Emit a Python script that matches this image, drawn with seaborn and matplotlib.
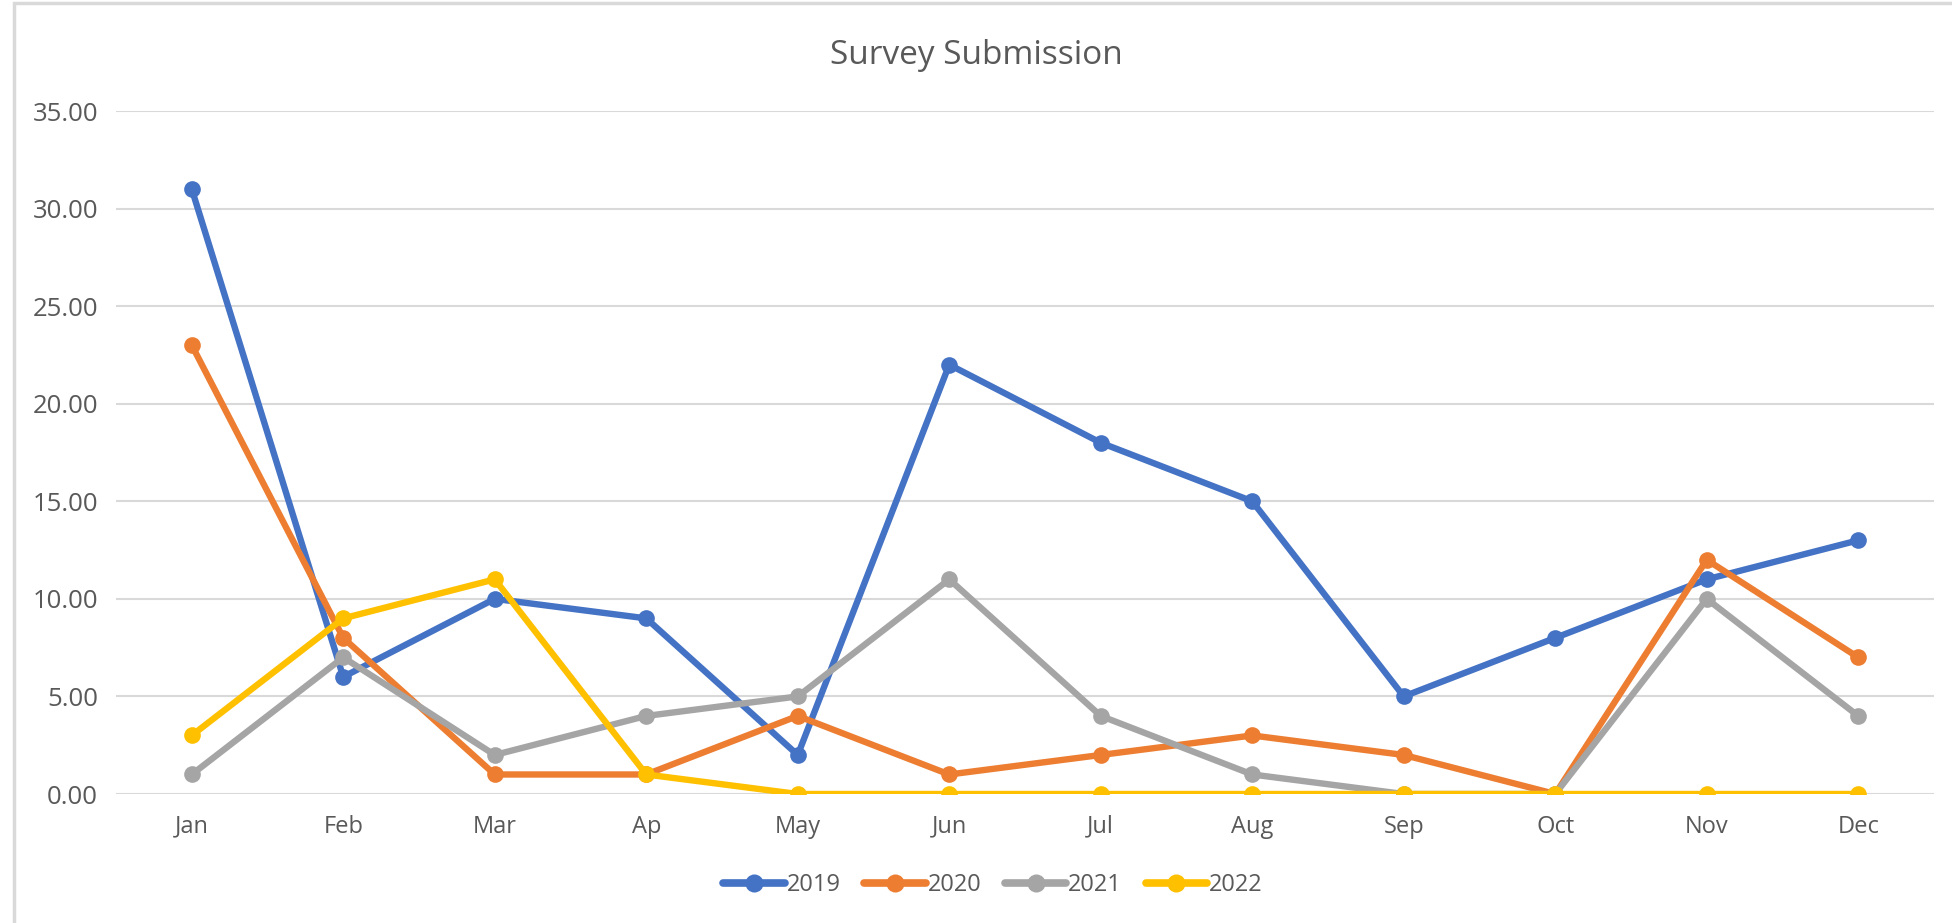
import numpy as np
import pandas as pd
import matplotlib
matplotlib.use("Agg")
import matplotlib.pyplot as plt
import seaborn as sns
from matplotlib.patches import Rectangle

# Monthly survey submissions per year
months = ["Jan", "Feb", "Mar", "Ap", "May", "Jun", "Jul", "Aug", "Sep", "Oct", "Nov", "Dec"]
years = ["2019", "2020", "2021", "2022"]
y2019 = [31, 6, 10, 9, 2, 22, 18, 15, 5, 8, 11, 13]
y2020 = [23, 8, 1, 1, 4, 1, 2, 3, 2, 0, 12, 7]
y2021 = [1, 7, 2, 4, 5, 11, 4, 1, 0, 0, 10, 4]
y2022 = [3, 9, 11, 1, 0, 0, 0, 0, 0, 0, 0, 0]
yticks = [0, 5, 10, 15, 20, 25, 30, 35]

colors = ["#4472C4", "#ED7D31", "#A5A5A5", "#FFC000"]

series = {"2019": y2019, "2020": y2020, "2021": y2021, "2022": y2022}
df = pd.DataFrame(
    [(m_i, v, yr) for yr in years for m_i, v in enumerate(series[yr])],
    columns=["pos", "value", "year"],
)

sns.set_theme(style="white")
plt.rcParams["font.family"] = ["Open Sans", "DejaVu Sans"]

fig = plt.figure(figsize=(19.52, 9.23), dpi=100)
ax = fig.add_axes([116 / 1952, 1 - 794 / 923, (1934 - 116) / 1952, (794 - 111) / 923])

sns.lineplot(
    data=df, x="pos", y="value", hue="year", hue_order=years,
    palette=colors, marker="o", markersize=12, markeredgewidth=0,
    linewidth=4.6, sort=False, ax=ax, legend=True,
)

ax.set_xlim(-0.5, len(months) - 0.5)
ax.set_ylim(0, 35)
ax.set_xticks(range(len(months)))
ax.set_xticklabels(months)
ax.set_yticks(yticks)
ax.set_yticklabels([f"{t:.2f}" for t in yticks])
ax.set_xlabel("")
ax.set_ylabel("")

ax.grid(axis="y", color="#D9D9D9", linewidth=1.5)
ax.grid(axis="x", visible=False)
ax.set_axisbelow(True)
for s in ax.spines.values():
    s.set_visible(False)
ax.tick_params(axis="y", length=0, pad=13, labelsize=18.5, labelcolor="#595959")
ax.tick_params(axis="x", length=0, pad=15, labelsize=17, labelcolor="#595959")

fig.text(0.5, 1 - 55 / 923, "Survey Submission", ha="center", va="center",
         fontsize=24, color="#595959")

handles, labels = ax.get_legend_handles_labels()
ax.get_legend().remove()
leg = fig.legend(handles, labels, loc="center",
                 bbox_to_anchor=(0.5 + 17 / 1952, 1 - 885 / 923),
                 ncol=4, frameon=False, fontsize=17, handlelength=2.6,
                 handletextpad=0.08, columnspacing=1.0, labelcolor="#595959")
for h in leg.legend_handles:
    h.set_linewidth(5.5)
    h.set_markersize(13)

# chart-area outline (left and top edges visible)
fig.patches.append(Rectangle((14 / 1952, -0.1), 2.0, 1 - 3 / 923 + 0.1,
                             transform=fig.transFigure, fill=False,
                             edgecolor="#D9D9D9", linewidth=2.5))

fig.savefig("out.png", dpi=100)
